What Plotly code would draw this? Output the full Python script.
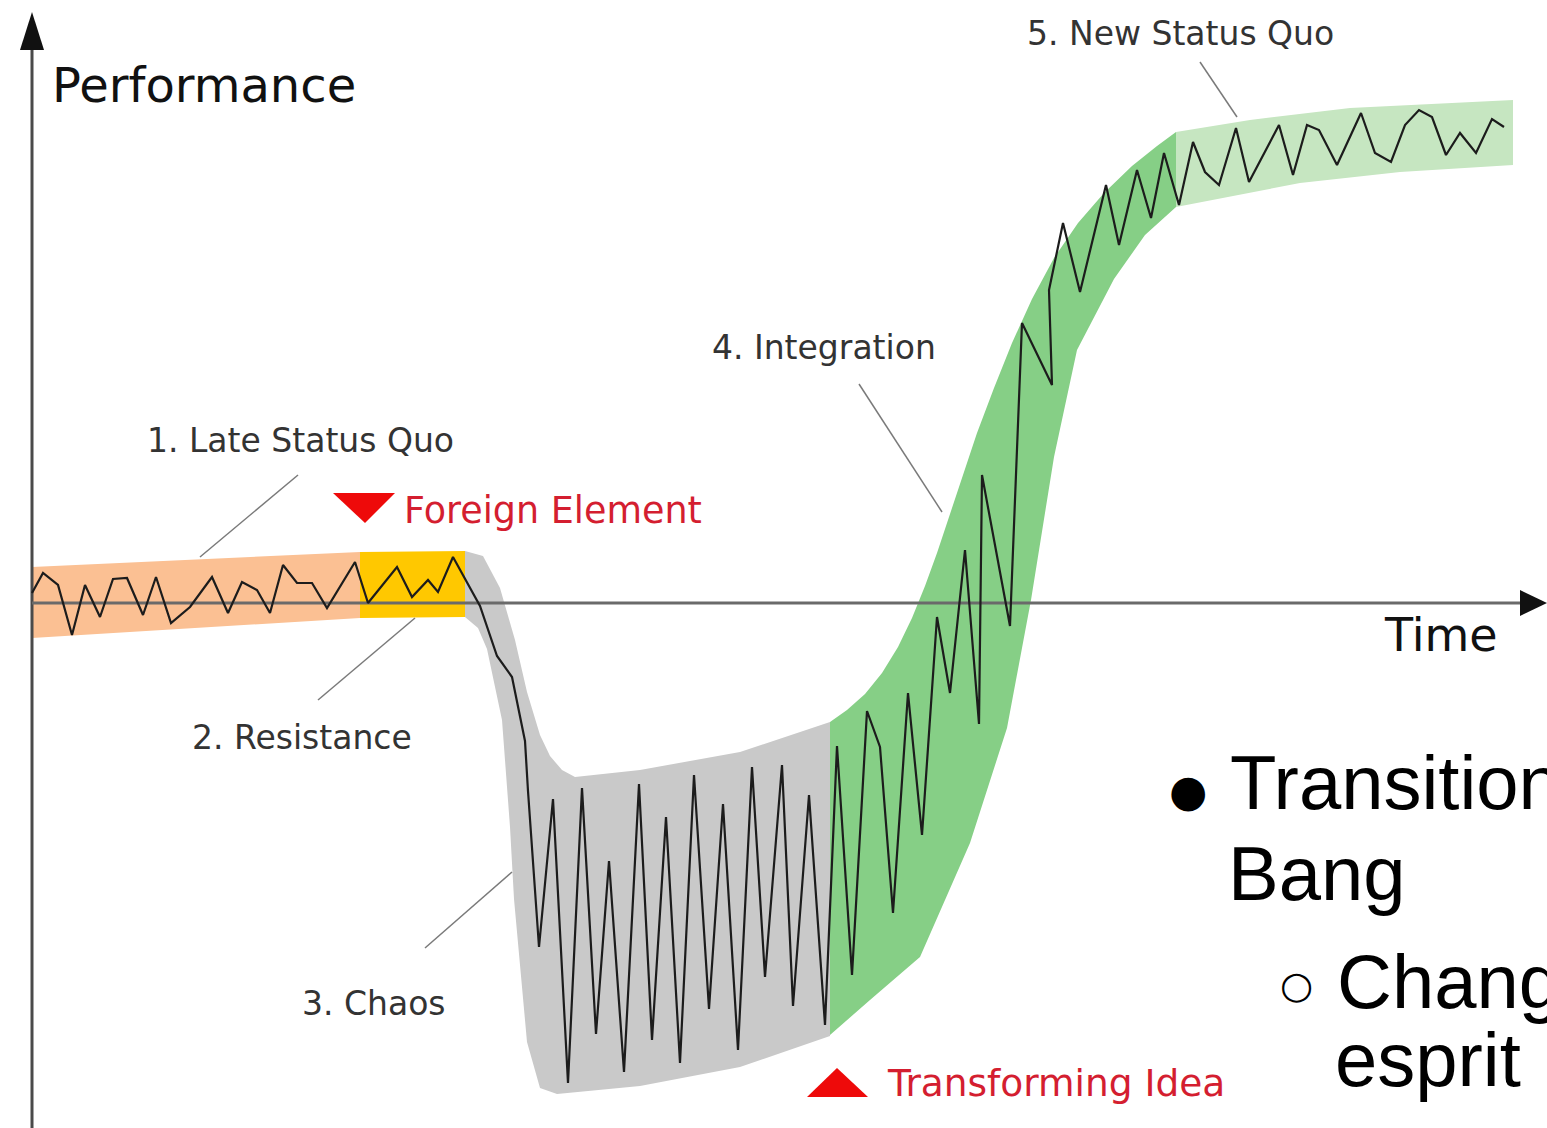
import plotly.graph_objects as go

# ---- performance curve (time, performance); time axis at performance = 0 ----
time = [0, 11, 26, 40, 53, 68, 81, 95, 111, 124, 139, 158, 180, 196, 210, 225, 238, 251, 265, 280,
        295, 323, 336, 365, 380, 396, 406, 421, 448, 465, 480, 493, 496, 507, 521, 536, 550, 564,
        577, 592, 607, 620, 634, 648, 662, 677, 691, 706, 720, 733, 750, 761, 777, 793, 805, 820,
        835, 848, 861, 876, 890, 905, 918, 933, 947, 950, 978, 990, 1020, 1017, 1031, 1048, 1074,
        1087, 1105, 1119, 1132, 1147, 1161, 1173, 1187, 1204, 1217, 1247, 1261, 1275, 1287, 1305,
        1329, 1343, 1359, 1373, 1387, 1400, 1414, 1428, 1444, 1460, 1472]
perf = [10, 30, 18, -32, 18, -14, 24, 25, -12, 26, -20, -4, 26, -10, 21, 13, -10, 38, 20, 20,
        -5, 41, 0, 36, 6, 23, 11, 46, -3, -53, -74, -138, -188, -344, -196, -480, -185, -431,
        -258, -469, -181, -437, -214, -460, -172, -406, -201, -447, -164, -374, -162, -403, -192,
        -422, -143, -372, -108, -144, -310, -90, -232, -14, -90, 53, -121, 128, -23, 280, 218, 313,
        380, 311, 418, 358, 433, 385, 450, 398, 461, 431, 418, 475, 421, 478, 428, 478, 473, 438,
        490, 450, 441, 478, 493, 486, 448, 470, 450, 484, 476]

# ---- phase bands: outline of each shaded zone (time, performance) ----
late_t = [0, 328, 328, 0]
late_p = [36, 51, -15, -35]
resist_t = [328, 433, 433, 328]
resist_p = [51, 52, -14, -15]
chaos_t = [433, 451, 468, 483, 495, 508, 518, 530, 543, 608, 708, 798,
           798, 708, 608, 525, 508, 495, 482, 478, 470, 455, 446, 433]
chaos_p = [52, 47, 15, -37, -89, -132, -153, -167, -174, -167, -149, -119,
           -433, -464, -483, -491, -485, -439, -296, -224, -117, -46, -25, -14]
integ_t = [798, 815, 833, 850, 866, 880, 893, 905, 917, 930, 945, 962, 980, 1000, 1022,
           1046, 1072, 1100, 1125, 1144,
           1144, 1113, 1082, 1045, 1022, 999, 975, 938, 888, 838, 798]
integ_p = [-119, -107, -91, -70, -44, -15, 17, 50, 86, 126, 170, 215, 260, 304, 345,
           380, 410, 437, 457, 471,
           396, 368, 324, 253, 146, 3, -125, -240, -354, -397, -432]
new_t = [1144, 1218, 1318, 1481, 1481, 1368, 1268, 1144]
new_p = [471, 483, 495, 503, 438, 431, 420, 396]

band_colors = ["#FBC093", "#FFC800", "#C9C9C9", "#86CF86", "#C6E6C1"]

# ---- phase labels with leader lines ----
labels = ["1. Late Status Quo", "2. Resistance", "3. Chaos", "4. Integration", "5. New Status Quo"]
label_t = [113, 158, 268, 678, 993]
label_p = [163, -134, -400, 256, 570]
leader_t = [[266, 168], [383, 286], [480, 393], [827, 910], [1168, 1205]]
leader_p = [[128, 46], [-15, -97], [-269, -345], [219, 91], [541, 486]]

# ---- events ----
events = ["Foreign Element", "Transforming Idea"]
event_t = [333, 805]
event_dir = ["down", "up"]

fig = go.Figure()

for bt, bp, col in zip([late_t, resist_t, chaos_t, integ_t, new_t],
                       [late_p, resist_p, chaos_p, integ_p, new_p], band_colors):
    fig.add_trace(go.Scatter(x=bt + [bt[0]], y=bp + [bp[0]], fill="toself", fillcolor=col,
                             mode="lines", line=dict(width=0, color=col), hoverinfo="skip"))

# axes lines
fig.add_trace(go.Scatter(x=[0, 0], y=[-530, 560], mode="lines",
                         line=dict(color="#4a4a4a", width=3), hoverinfo="skip"))
fig.add_trace(go.Scatter(x=[0, 1492], y=[0, 0], mode="lines",
                         line=dict(color="#6a6a6a", width=3), hoverinfo="skip"))

# performance curve
fig.add_trace(go.Scatter(x=time, y=perf, mode="lines",
                         line=dict(color="#1c1c1c", width=2.2), hoverinfo="skip"))

# leader lines
for lt, lp in zip(leader_t, leader_p):
    fig.add_trace(go.Scatter(x=lt, y=lp, mode="lines",
                             line=dict(color="#7a7a7a", width=1.5), hoverinfo="skip"))

shapes = []
# arrow heads
shapes.append(dict(type="path", path="M 0 591 L -12 553 L 12 553 Z",
                   fillcolor="#111", line=dict(width=0)))
shapes.append(dict(type="path", path="M 1515 0 L 1488 13 L 1488 -13 Z",
                   fillcolor="#111", line=dict(width=0)))
# event triangles
for et, d in zip(event_t, event_dir):
    if d == "down":
        path = f"M {et-32} 110 L {et+30} 110 L {et} 80 Z"
    else:
        path = f"M {et-30} -494 L {et+31} -494 L {et} -465 Z"
    shapes.append(dict(type="path", path=path, fillcolor="#EE0A0A", line=dict(width=0)))

annos = []
label_font = dict(family="DejaVu Sans", size=33, color="#333333")
for txt, lt, lp in zip(labels, label_t, label_p):
    annos.append(dict(x=lt, y=lp, text=txt, showarrow=False, xanchor="left",
                      yanchor="middle", font=label_font))
annos.append(dict(x=370, y=93, text="Foreign Element", showarrow=False, xanchor="left",
                  yanchor="middle", font=dict(family="DejaVu Sans", size=36.5, color="#D41E30")))
annos.append(dict(x=853, y=-480, text="Transforming Idea", showarrow=False, xanchor="left",
                  yanchor="middle", font=dict(family="DejaVu Sans", size=37.5, color="#D41E30")))
big_font = dict(family="DejaVu Sans", size=48, color="#111111")
annos.append(dict(x=18, y=518, text="Performance", showarrow=False, xanchor="left",
                  yanchor="middle", font=big_font))
annos.append(dict(x=1350, y=-32, text="Time", showarrow=False, xanchor="left",
                  yanchor="middle", font=dict(family="DejaVu Sans", size=46, color="#111111")))

# slide text overlay
slide_font = dict(family="Liberation Sans", size=76, color="#000000")
annos.append(dict(x=1156, y=-187, text="●", showarrow=False, xanchor="center",
                  yanchor="middle", font=dict(family="DejaVu Sans", size=44, color="#000")))
annos.append(dict(x=1196, y=-179, text="Transition", showarrow=False, xanchor="left",
                  yanchor="middle", font=slide_font))
annos.append(dict(x=1194, y=-270, text="Bang", showarrow=False, xanchor="left",
                  yanchor="middle", font=slide_font))
annos.append(dict(x=1264, y=-382, text="○", showarrow=False, xanchor="center",
                  yanchor="middle", font=dict(family="DejaVu Sans", size=38, color="#000")))
annos.append(dict(x=1303, y=-378, text="Changement d'", showarrow=False, xanchor="left",
                  yanchor="middle", font=slide_font))
annos.append(dict(x=1301, y=-456, text="esprit", showarrow=False, xanchor="left",
                  yanchor="middle", font=slide_font))

fig.update_layout(
    width=1547, height=1128, margin=dict(l=0, r=0, t=0, b=0),
    paper_bgcolor="white", plot_bgcolor="white", showlegend=False,
    xaxis=dict(range=[-32, 1515], visible=False, fixedrange=True),
    yaxis=dict(range=[-525, 603], visible=False, fixedrange=True),
    shapes=shapes, annotations=annos,
)

fig.write_html("out.html", config={"displayModeBar": False},
               post_script="document.body.style.margin='0';document.body.style.overflow='hidden';")
